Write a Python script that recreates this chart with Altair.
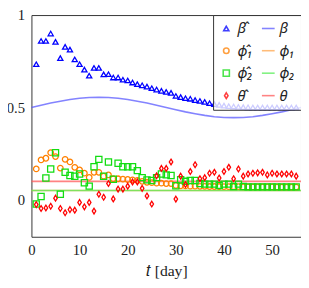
import altair as alt
import pandas as pd

days = list(range(1, 56))
beta_hat = [0.734, 0.86, 0.86, 0.90, 0.855, 0.767, 0.828, 0.813, 0.76, 0.734,
            0.705, 0.672, 0.714, 0.714, 0.679, 0.68, 0.662, 0.662, 0.65, 0.646,
            0.635, 0.626, 0.62, 0.613, 0.604, 0.597, 0.59, 0.584, 0.579, 0.562,
            0.556, 0.55, 0.547, 0.54, 0.535, 0.53, 0.523, 0.518, 0.514, 0.51,
            0.507, 0.505, 0.503, 0.502, 0.501, 0.5, 0.5, 0.5, 0.5, 0.5,
            0.5, 0.5, 0.5, 0.5, 0.5]
phi1_hat = [0.167, 0.216, 0.225, 0.255, 0.234, 0.172, 0.219, 0.205, 0.176, 0.162,
            0.144, 0.121, 0.149, 0.149, 0.128, 0.135, 0.114, 0.114, 0.112, 0.11,
            0.108, 0.105, 0.1, 0.095, 0.093, 0.09, 0.09, 0.088, 0.088, 0.078,
            0.076, 0.075, 0.074, 0.074, 0.073, 0.073, 0.072, 0.072, 0.072, 0.071,
            0.071, 0.071, 0.071, 0.07, 0.07, 0.07, 0.07, 0.07, 0.07, 0.07,
            0.069, 0.069, 0.069, 0.069, 0.069]
phi2_hat = [-0.023, 0.018, 0.118, 0.167, 0.255, 0.03, 0.149, 0.132, 0.128, 0.14,
            0.092, 0.074, 0.179, 0.219, 0.128, 0.205, 0.111, 0.198, 0.179, 0.179,
            0.179, 0.158, 0.12, 0.108, 0.105, 0.12, 0.14, 0.135, 0.132, 0.076,
            0.109, 0.1, 0.105, 0.105, 0.088, 0.085, 0.085, 0.085, 0.078, 0.085,
            0.085, 0.072, 0.085, 0.072, 0.07, 0.07, 0.07, 0.07, 0.07, 0.07,
            0.07, 0.07, 0.07, 0.07, 0.07]
theta_hat = [-0.026, -0.047, -0.044, -0.035, 0.009, -0.047, -0.07, -0.053, -0.056, -0.014,
             -0.038, -0.014, -0.061, 0.03, 0.014, 0.088, 0.005, 0.058, 0.058, 0.074,
             0.097, 0.097, 0.062, 0.021, -0.023, 0.13, 0.17, 0.17, 0.205, 0.004,
             0.128, 0.083, 0.153, 0.19, 0.114, 0.12, 0.144, 0.149, 0.118, 0.153,
             0.176, 0.114, 0.167, 0.128, 0.14, 0.144, 0.146, 0.149, 0.135, 0.144,
             0.14, 0.14, 0.14, 0.14, 0.128]

t_beta = [0, 2, 4, 6, 8, 10, 12, 14, 16, 18, 20, 22, 24, 26, 28,
          30, 32, 34, 36, 38, 40, 42, 44, 46, 48, 50, 52, 54, 56]
beta_line = [0.500, 0.512, 0.524, 0.534, 0.543, 0.550, 0.554, 0.555, 0.554, 0.550,
             0.543, 0.534, 0.524, 0.512, 0.500, 0.488, 0.476, 0.466, 0.457, 0.450,
             0.446, 0.445, 0.446, 0.450, 0.457, 0.466, 0.476, 0.488, 0.500]
t_const = [0, 56]
phi1_line = [0.05, 0.05]
phi2_line = [0.05, 0.05]
theta_line = [0.1, 0.1]

BH, PH1, PH2, TH = "β̂", "ϕ̂₁", "ϕ̂₂", "θ̂"
B, P1, P2, T = "β", "ϕ₁", "ϕ₂", "θ"

rows = []
for name, vals in [(BH, beta_hat), (PH1, phi1_hat), (PH2, phi2_hat), (TH, theta_hat)]:
    for d, v in zip(days, vals):
        rows.append({"t": d, "v": v, "s": name})
pts = pd.DataFrame(rows)

lrows = []
for name, ts, vals in [(B, t_beta, beta_line), (P1, t_const, phi1_line),
                       (P2, t_const, phi2_line), (T, t_const, theta_line)]:
    for d, v in zip(ts, vals):
        lrows.append({"t": d, "v": v, "s": name})
lns = pd.DataFrame(lrows)

dom = [BH, PH1, PH2, TH, B, P1, P2, T]
cols = ["#0000ff", "#ff8000", "#11dd11", "#ff0000", "#5a5aff", "#ffa64d", "#55ee55", "#ff5a5a"]
tall_diamond = "M0,-1L0.62,0L0,1L-0.62,0Z"
shapes = ["triangle-up", "circle", "square", "diamond", "stroke", "stroke", "stroke", "stroke"]
shapes[3] = tall_diamond
sizes = [28, 32, 40, 34, 170, 170, 170, 170]

FONT = "Liberation Serif"
LFONT = "Noto Sans"

xenc = alt.X("t:Q", scale=alt.Scale(domain=[0, 56], nice=False, zero=False),
             axis=alt.Axis(values=[0, 10, 20, 30, 40, 50], title="𝑡 [day]",
                           ticks=False, domain=False, grid=False, labelFlush=False,
                           labelPadding=6, titlePadding=6))
yenc = alt.Y("v:Q", scale=alt.Scale(domain=[-0.2, 1], nice=False, zero=False),
             axis=alt.Axis(values=[0, 0.5, 1], title=None, ticks=False, labelFlush=False,
                           domain=False, grid=False, labelPadding=7,
                           labelExpr="datum.value == 0 ? '0' : datum.value == 1 ? '1' : '0.5'"))

legend = alt.Legend(title=None, orient="top-right", offset=0, columns=2, direction="vertical",
                    fillColor="rgba(255,255,255,0.8)", strokeColor="#333333",
                    padding=6, columnPadding=5, rowPadding=7,
                    labelFont=LFONT, labelFontSize=15, labelFontStyle="italic",
                    labelColor="#222222", symbolStrokeWidth=1.6, labelOffset=4)

color = alt.Color("s:N", scale=alt.Scale(domain=dom, range=cols), legend=legend)
shape = alt.Shape("s:N", scale=alt.Scale(domain=dom, range=shapes), legend=legend)
size = alt.Size("s:N", scale=alt.Scale(type="ordinal", domain=dom, range=sizes), legend=legend)

lines = alt.Chart(lns).mark_line(strokeWidth=1.6, opacity=0.75).encode(
    x=xenc, y=yenc, color=color)
points = alt.Chart(pts).mark_point(filled=False, strokeWidth=1.3, opacity=1).encode(
    x=xenc, y=yenc, color=color, shape=shape, size=size)

chart = alt.layer(lines, points).properties(
    width=276, height=227,
    autosize=alt.AutoSizeParams(type="none"),
    padding={"left": 24, "top": 4, "right": 0, "bottom": 40},
).configure_view(stroke="#333333", strokeWidth=1).configure_axis(
    labelFont=FONT, labelFontSize=15, labelColor="#222222", titleFont=FONT,
    titleFontSize=16, titleFontWeight="normal", titleColor="#222222"
)

chart.save("out.html", embed_options={"renderer": "svg", "actions": False})
